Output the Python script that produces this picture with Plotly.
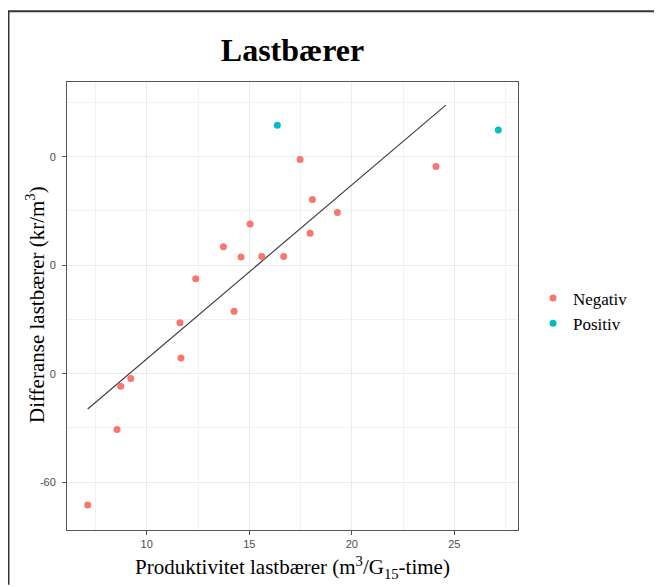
import plotly.graph_objects as go

# Data
neg_x = [17.48, 24.11, 18.08, 19.30, 15.04, 17.97, 13.74, 14.60, 15.61, 16.68,
         12.39, 14.26, 11.62, 11.67, 9.22, 8.73, 8.55, 7.12]
neg_y = [-0.5, -1.8, -7.9, -10.3, -12.4, -14.1, -16.6, -18.5, -18.4, -18.4,
         -22.5, -28.5, -30.6, -37.1, -40.9, -42.3, -50.3, -64.2]
pos_x = [16.37, 27.15]
pos_y = [5.8, 4.9]
trend_x = [7.12, 24.59]
trend_y = [-46.5, 9.5]

x_tickvals = [10, 15, 20, 25]
x_ticktext = ["10", "15", "20", "25"]
y_tickvals = [0, -20, -40, -60]
y_ticktext = ["0", "0", "0", "-60"]

serif = "Liberation Serif, Times New Roman, serif"
sans = "Liberation Sans, Arial, sans-serif"

# page has an 8px body margin; figure sized to fit the 662x587 window
W, H = 654, 579
L, T, PW, PH = 59, 74, 451, 450

fig = go.Figure()
fig.add_trace(go.Scatter(x=trend_x, y=trend_y, mode="lines",
                         line=dict(color="#404040", width=1.2),
                         showlegend=False, hoverinfo="skip"))
fig.add_trace(go.Scatter(x=neg_x, y=neg_y, mode="markers", name="Negativ",
                         marker=dict(color="#F8766D", size=7)))
fig.add_trace(go.Scatter(x=pos_x, y=pos_y, mode="markers", name="Positiv",
                         marker=dict(color="#00BFC4", size=7)))

axis_common = dict(
    showgrid=True, gridcolor="#ebebeb", gridwidth=1,
    zeroline=False, showline=True, linecolor="#555555", linewidth=1, mirror=True,
    ticks="outside", ticklen=4, tickcolor="#555555",
    tickfont=dict(family=sans, size=11, color="#4d4d4d"),
)

fig.update_layout(
    width=W, height=H,
    margin=dict(l=L, r=W - L - PW, t=T, b=H - T - PH),
    paper_bgcolor="white", plot_bgcolor="white",
    title=dict(text="<b>Lastbærer</b>", x=(L + PW / 2) / W, xanchor="center",
               y=1 - 42 / H, yanchor="middle",
               font=dict(family=serif, size=32, color="black")),
    xaxis=dict(range=[6.11, 28.11], tickvals=x_tickvals, ticktext=x_ticktext,
               minor=dict(tickvals=[7.5, 12.5, 17.5, 22.5, 27.5], showgrid=True,
                          gridcolor="#f2f2f2", ticks=""),
               title=dict(text="Produktivitet lastbærer (m<sup>3</sup>/G<sub>15</sub>-time)",
                          font=dict(family=serif, size=21, color="black"), standoff=10),
               **axis_common),
    yaxis=dict(range=[-68.8, 13.76], tickvals=y_tickvals, ticktext=y_ticktext,
               minor=dict(tickvals=[10, -10, -30, -50], showgrid=True,
                          gridcolor="#f2f2f2", ticks=""),
               ticklabelstandoff=4,
               **axis_common),
    annotations=[
        dict(text="Differanse lastbærer (kr/m<sup>3</sup>)", textangle=-90,
             xref="paper", yref="paper", showarrow=False,
             x=(35 - 8 - L) / PW, xanchor="center",
             y=(T + PH - (306 - 8)) / PH, yanchor="middle",
             font=dict(family=serif, size=21, color="black")),
    ],
    legend=dict(x=(525 - L) / PW, xanchor="left", y=(T + PH - 304) / PH, yanchor="middle",
                font=dict(family=serif, size=17, color="black"),
                bgcolor="rgba(0,0,0,0)"),
    shapes=[
        dict(type="line", xref="paper", yref="paper",
             x0=(0 - L) / PW, x1=(W - L) / PW,
             y0=(T + PH - 3) / PH, y1=(T + PH - 3) / PH,
             line=dict(color="#333333", width=2)),
        dict(type="line", xref="paper", yref="paper",
             x0=(0.5 - L) / PW, x1=(0.5 - L) / PW,
             y0=(T + PH - 3) / PH, y1=(T + PH - H) / PH,
             line=dict(color="#333333", width=2)),
    ],
)

fig.write_html("out.html")
